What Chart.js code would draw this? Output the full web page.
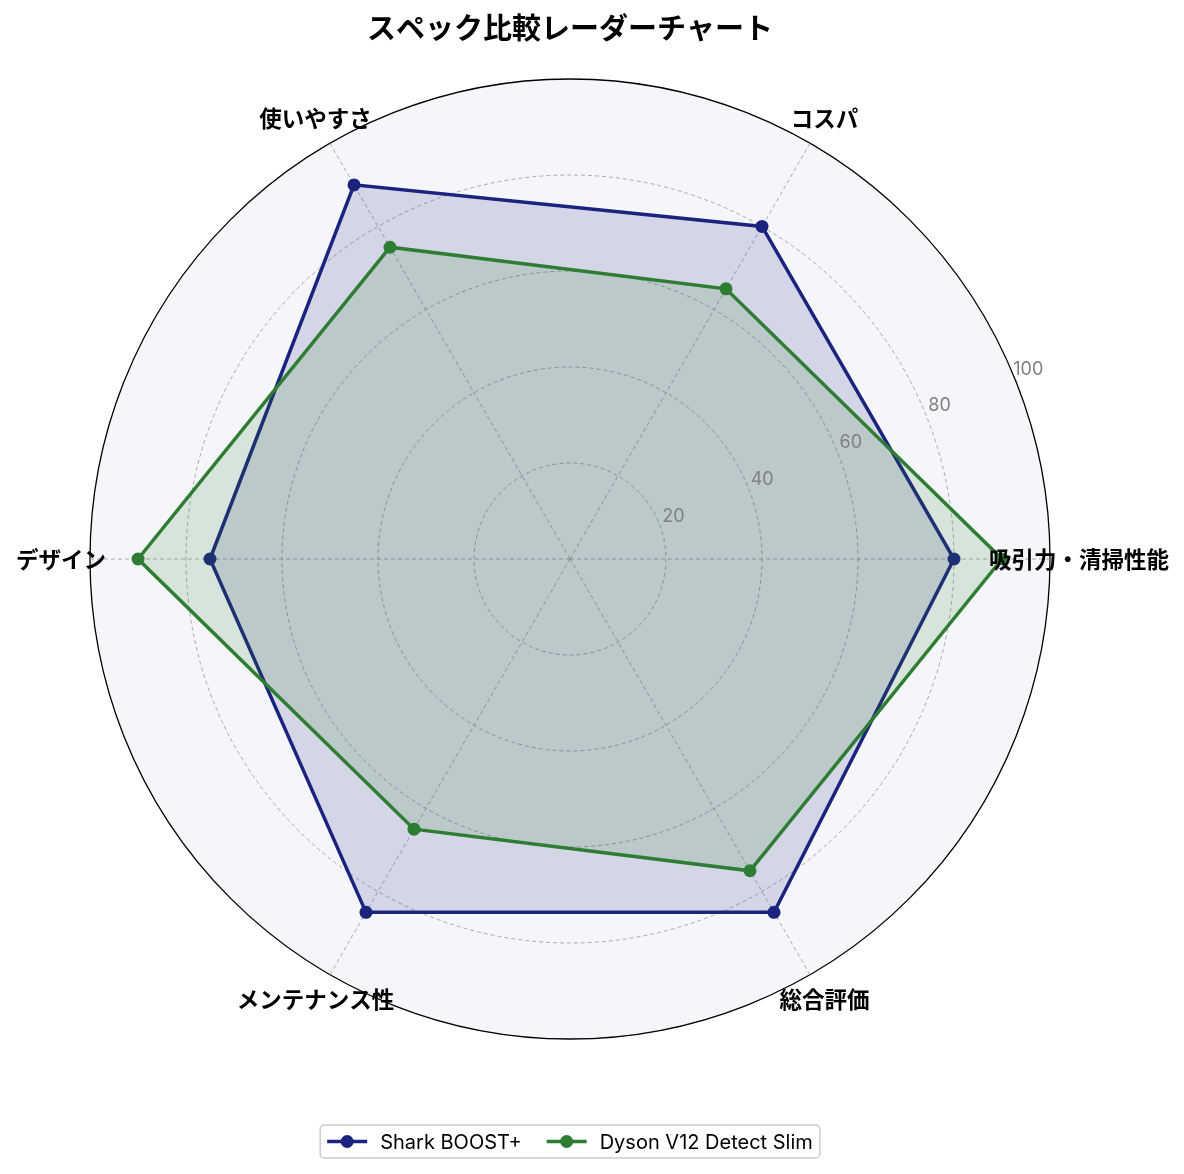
<!DOCTYPE html>
<html>
<head>
<meta charset="utf-8">
<script src="https://cdn.jsdelivr.net/npm/chart.js@4"></script>
<style>
  body { margin: 0; background: #fff; }
  #wrap { width: 1184px; height: 1174px; }
</style>
</head>
<body>
<div id="wrap"><canvas id="radarChart" width="1184" height="1174"></canvas></div>
<script>
// axes go clockwise from the right in Chart.js, so the order is reversed vs. the picture
const categories = ['吸引力・清掃性能', '総合評価', 'メンテナンス性', 'デザイン', '使いやすさ', 'コスパ'];
const sharkValues = [80, 85, 85, 75, 90, 80];
const dysonValues = [90, 75, 65, 90, 75, 65];
const tickValues = [20, 40, 60, 80, 100];
const seriesNames = ['Shark BOOST+', 'Dyson V12 Detect Slim'];
const seriesColors = ['#1a237e', '#2e7d32'];

const FONT = '"Noto Sans CJK JP", "Noto Sans", sans-serif';
const LATIN = 'Inter, "Noto Sans CJK JP", sans-serif';

// tick numbers, axis names and the boxed legend
const overlayPlugin = {
    id: 'overlay',
    afterDraw(chart) {
        const ctx = chart.ctx;
        const scale = chart.scales.r;
        const cx = scale.xCenter, cy = scale.yCenter;

        ctx.save();
        ctx.font = '18px ' + LATIN;
        ctx.fillStyle = '#808080';
        ctx.textAlign = 'center';
        ctx.textBaseline = 'middle';
        const a = 22.5 * Math.PI / 180;
        tickValues.forEach(v => {
            const d = scale.getDistanceFromCenterForValue(v) + 16;
            ctx.fillText(String(v), cx + d * Math.cos(a), cy - d * Math.sin(a));
        });

        ctx.font = 'bold 22.5px ' + FONT;
        ctx.fillStyle = '#000';
        categories.forEach((label, i) => {
            const p = scale.getPointPosition(i, scale.drawingArea + 29);
            ctx.fillText(label, p.x, p.y);
        });

        // legend
        ctx.font = '20px ' + LATIN;
        const lineLen = 40, gapText = 13, gapItem = 25, padX = 7;
        const widths = seriesNames.map(n => ctx.measureText(n).width);
        let total = padX * 2;
        widths.forEach((w, i) => { total += lineLen + gapText + w + (i ? gapItem : 0); });
        const boxX = cx - total / 2, boxY = 1125, boxH = 33;
        ctx.beginPath();
        ctx.roundRect(boxX, boxY, total, boxH, 4);
        ctx.fillStyle = '#fff';
        ctx.fill();
        ctx.strokeStyle = '#cccccc';
        ctx.lineWidth = 1.5;
        ctx.stroke();
        let x = boxX + padX;
        const y = boxY + boxH / 2;
        seriesNames.forEach((name, i) => {
            if (i) x += gapItem;
            ctx.strokeStyle = seriesColors[i];
            ctx.lineWidth = 3.5;
            ctx.beginPath();
            ctx.moveTo(x, y);
            ctx.lineTo(x + lineLen, y);
            ctx.stroke();
            ctx.fillStyle = seriesColors[i];
            ctx.beginPath();
            ctx.arc(x + lineLen / 2, y, 6.5, 0, Math.PI * 2);
            ctx.fill();
            x += lineLen + gapText;
            ctx.fillStyle = '#000';
            ctx.textAlign = 'left';
            ctx.fillText(name, x, y + 1);
            x += widths[i];
        });
        ctx.restore();
    }
};

new Chart(document.getElementById('radarChart'), {
    type: 'radar',
    data: {
        labels: categories,
        datasets: [
            {
                label: seriesNames[0],
                data: sharkValues,
                borderColor: seriesColors[0],
                backgroundColor: 'rgba(26,35,126,0.15)',
                pointBackgroundColor: seriesColors[0],
                borderWidth: 3.5,
                pointRadius: 6.5,
                pointBorderWidth: 0,
                fill: true,
                order: 1
            },
            {
                label: seriesNames[1],
                data: dysonValues,
                borderColor: seriesColors[1],
                backgroundColor: 'rgba(46,125,50,0.15)',
                pointBackgroundColor: seriesColors[1],
                borderWidth: 3.5,
                pointRadius: 6.5,
                pointBorderWidth: 0,
                fill: true,
                order: 0
            }
        ]
    },
    options: {
        responsive: false,
        animation: false,
        devicePixelRatio: 1,
        layout: {
            padding: { left: 90, right: 134, top: 0, bottom: 134 }
        },
        elements: {
            line: { tension: 0 }
        },
        plugins: {
            title: {
                display: true,
                text: 'スペック比較レーダーチャート',
                color: '#000',
                font: { family: FONT, size: 29, weight: 'bold' },
                padding: { top: 11, bottom: 34 }
            },
            legend: { display: false },
            tooltip: { enabled: false }
        },
        scales: {
            r: {
                min: 0,
                max: 100,
                startAngle: 90,
                backgroundColor: '#f5f6fa',
                ticks: { stepSize: 20, display: false },
                pointLabels: { display: false },
                grid: {
                    circular: true,
                    color: ctx => ctx.tick && ctx.tick.value === 100 ? '#000' : 'rgba(140,140,140,0.7)',
                    lineWidth: ctx => ctx.tick && ctx.tick.value === 100 ? 1.3 : 1
                },
                border: {
                    dash: ctx => ctx.tick && ctx.tick.value === 100 ? [] : [4, 3]
                },
                angleLines: {
                    color: 'rgba(140,140,140,0.7)',
                    lineWidth: 1,
                    borderDash: [4, 3]
                }
            }
        }
    },
    plugins: [overlayPlugin]
});
</script>
</body>
</html>
